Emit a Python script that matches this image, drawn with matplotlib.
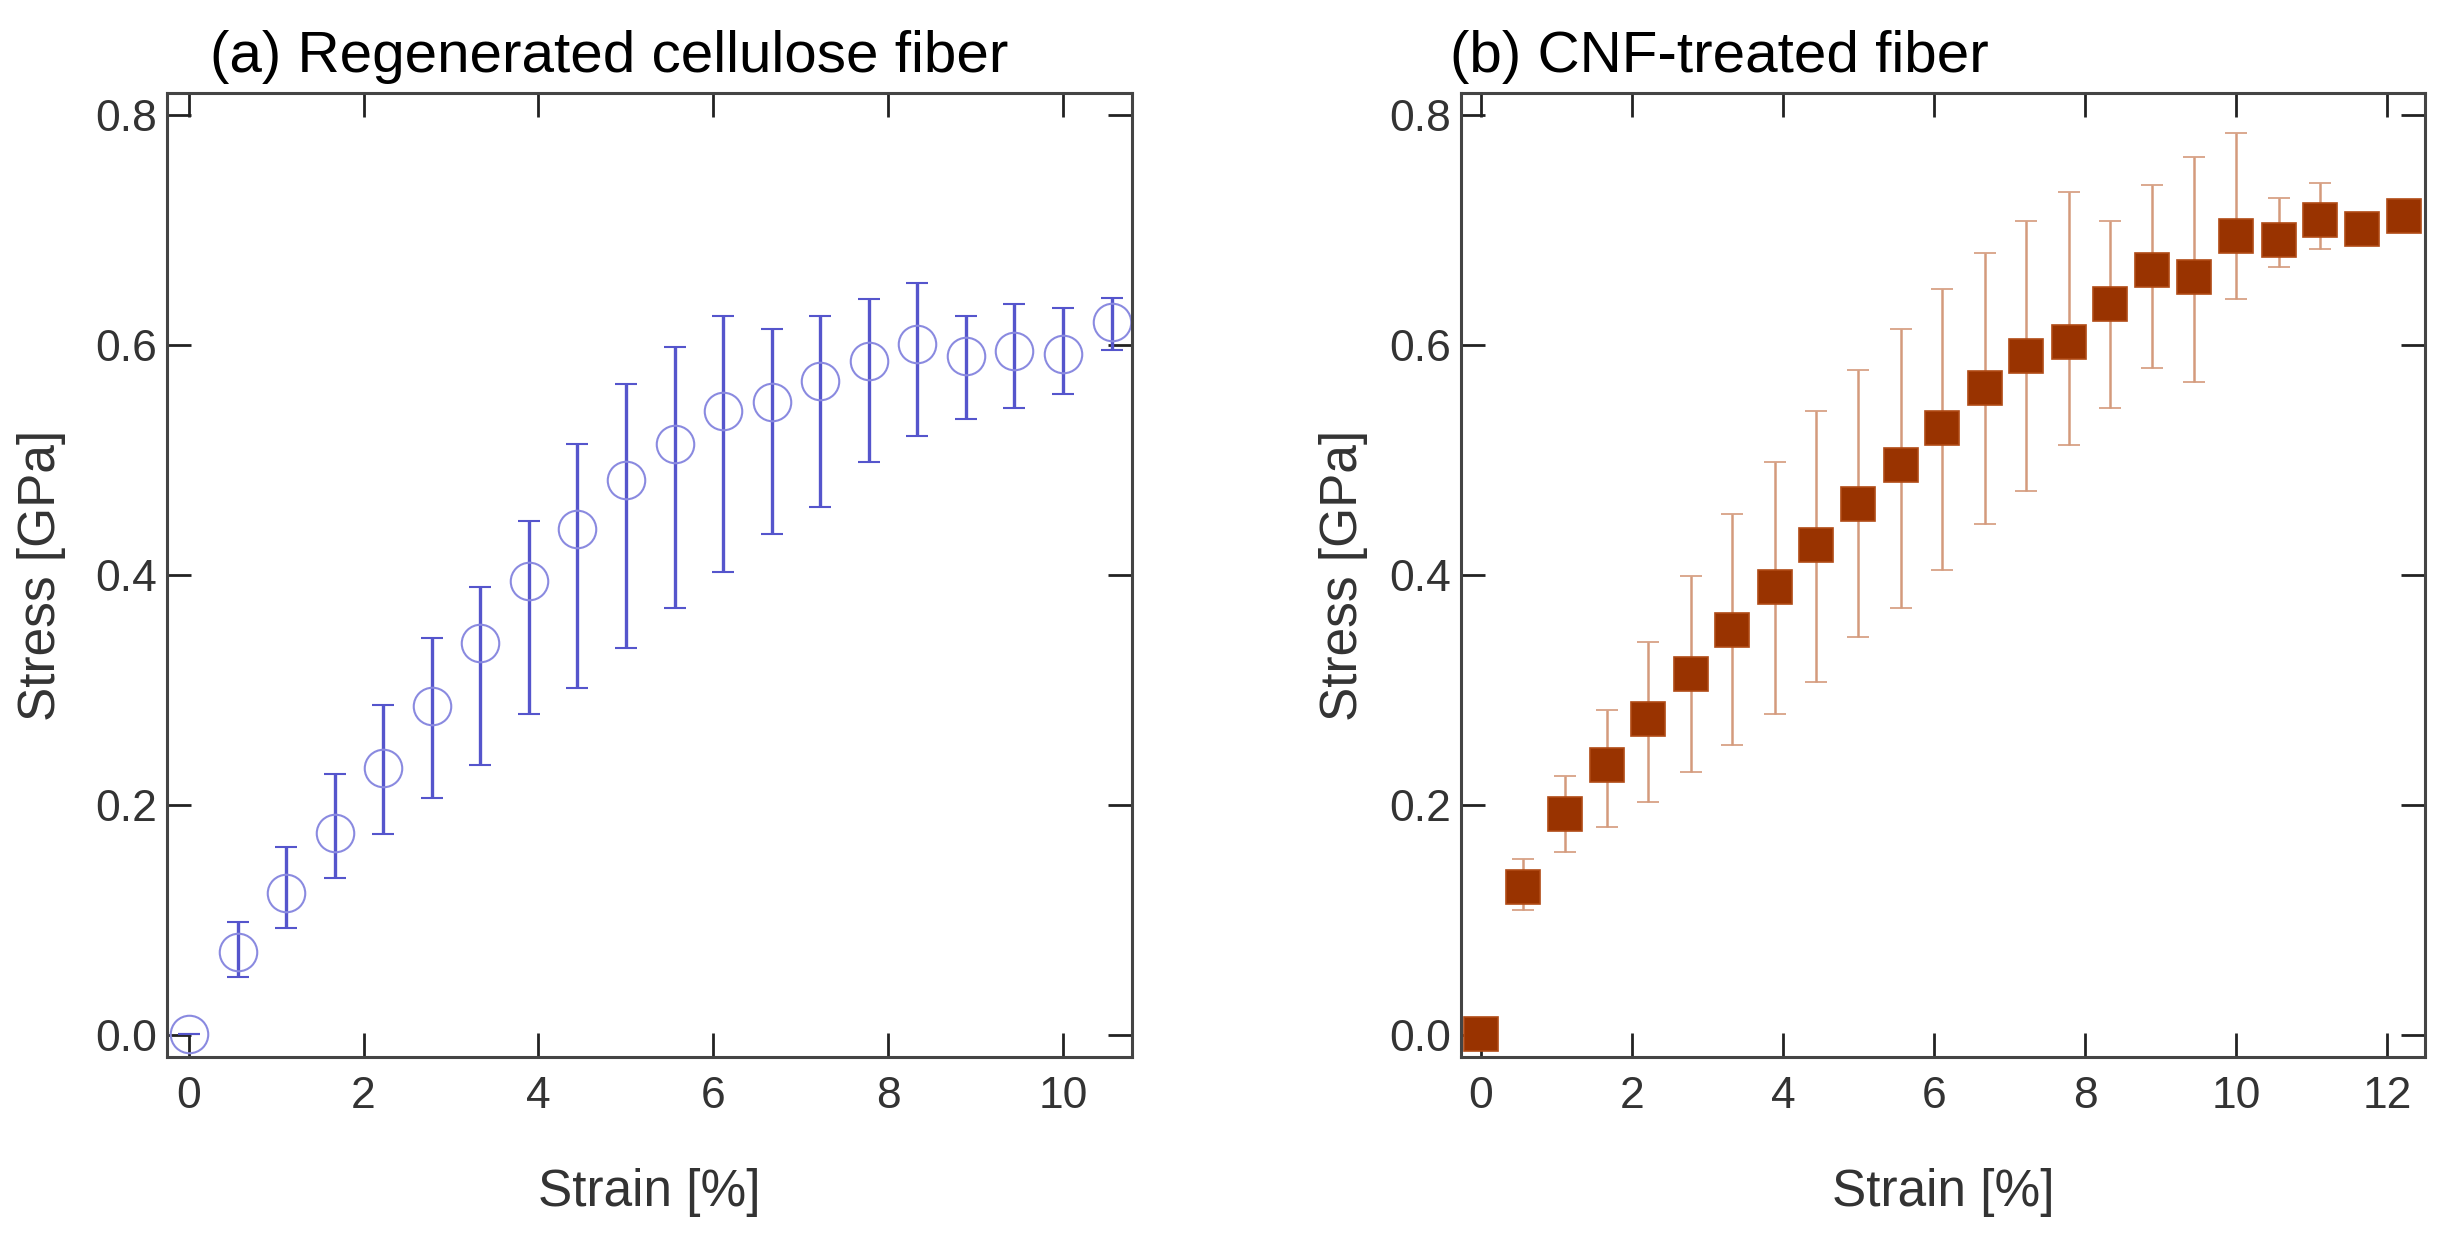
import numpy as np
import matplotlib
matplotlib.use("Agg")
from matplotlib import pyplot as plt

plt.rcParams['font.family'] = ['Liberation Sans', 'DejaVu Sans']

# (a) Regenerated cellulose fiber
strain_a = [0, 0.56, 1.11, 1.67, 2.22, 2.78, 3.33, 3.89, 4.44, 5.0,
            5.56, 6.11, 6.67, 7.22, 7.78, 8.33, 8.89, 9.44, 10.0, 10.56]
stress_a = [0.001, 0.072, 0.124, 0.176, 0.232, 0.286, 0.341, 0.395, 0.440, 0.483,
            0.514, 0.543, 0.550, 0.569, 0.586, 0.601, 0.590, 0.595, 0.592, 0.620]
upper_a = [0.001, 0.098, 0.164, 0.227, 0.287, 0.345, 0.390, 0.447, 0.514, 0.566,
           0.598, 0.625, 0.614, 0.625, 0.640, 0.654, 0.625, 0.636, 0.632, 0.641]
lower_a = [0.001, 0.051, 0.093, 0.137, 0.175, 0.206, 0.235, 0.279, 0.302, 0.337,
           0.371, 0.403, 0.436, 0.459, 0.498, 0.521, 0.536, 0.545, 0.557, 0.596]

# (b) CNF-treated fiber
strain_b = [0, 0.56, 1.11, 1.67, 2.22, 2.78, 3.33, 3.89, 4.44, 5.0, 5.56, 6.11,
            6.67, 7.22, 7.78, 8.33, 8.89, 9.44, 10.0, 10.56, 11.11, 11.67, 12.22]
stress_b = [0.001, 0.129, 0.192, 0.235, 0.275, 0.314, 0.352, 0.390, 0.426, 0.462, 0.496, 0.528,
            0.563, 0.590, 0.603, 0.636, 0.665, 0.659, 0.695, 0.691, 0.709, 0.701, 0.712]
upper_b = [0.001, 0.153, 0.225, 0.283, 0.342, 0.399, 0.453, 0.498, 0.543, 0.578, 0.614, 0.649,
           0.680, 0.708, 0.733, 0.708, 0.739, 0.763, 0.784, 0.728, 0.741, 0.705, 0.715]
lower_b = [0.001, 0.109, 0.159, 0.181, 0.203, 0.229, 0.252, 0.279, 0.307, 0.346, 0.371, 0.404,
           0.444, 0.473, 0.513, 0.545, 0.580, 0.568, 0.640, 0.668, 0.683, 0.697, 0.709]

yticks = [0.0, 0.2, 0.4, 0.6, 0.8]
xticks_a = [0, 2, 4, 6, 8, 10]
xticks_b = [0, 2, 4, 6, 8, 10, 12]


def style_axes(ax, xlim, xticks):
	ax.set_xlim(*xlim)
	ax.set_ylim(-0.019, 0.819)
	ax.set_xticks(xticks)
	ax.set_yticks(yticks)
	ax.set_yticklabels(["%.1f" % v for v in yticks])
	ax.tick_params(direction='in', length=17, width=2, top=True, right=True,
		labelsize=32, colors='#222222', labelcolor='#333333')
	ax.tick_params(axis='x', pad=14)
	ax.tick_params(axis='y', pad=7)
	for s in ax.spines.values():
		s.set_linewidth(2.2)
		s.set_color('#444444')
	ax.set_xlabel("Strain [%]", fontsize=37, color='#333333')
	ax.set_ylabel("Stress [GPa]", fontsize=37, color='#333333')
	ax.xaxis.set_label_coords(0.5, -0.115)
	ax.xaxis.label.set_va('top')


fig = plt.figure(figsize=(24.4, 12.44), dpi=100)
ax1 = fig.add_axes([0.0684, 0.1503, 0.3955, 0.7749])
ax2 = fig.add_axes([0.5988, 0.1503, 0.3951, 0.7749])

sa = np.array(stress_a)
err_a = [sa - np.array(lower_a), np.array(upper_a) - sa]
ax1.errorbar(strain_a, stress_a, yerr=err_a, fmt='o', ms=27, mfc='none',
	mec='#8a8ae0', mew=1.5, ecolor='#5555cc', elinewidth=2.4, capsize=8, capthick=2.6)
style_axes(ax1, (-0.25, 10.79), xticks_a)
ax1.yaxis.set_label_coords(-0.105, 0.5)
ax1.text(0.045, 1.022, "(a) Regenerated cellulose fiber", transform=ax1.transAxes,
	fontsize=42, va='baseline', ha='left', color='black')

sb = np.array(stress_b)
err_b = [sb - np.array(lower_b), np.array(upper_b) - sb]
ax2.errorbar(strain_b, stress_b, yerr=err_b, fmt='s', ms=24.5, mfc='#993300',
	mec='#b04a15', mew=1.2, ecolor='#d49a7c', elinewidth=1.8, capsize=8, capthick=2.2)
style_axes(ax2, (-0.26, 12.5), xticks_b)
ax2.yaxis.set_label_coords(-0.097, 0.5)
ax2.text(-0.011, 1.022, "(b) CNF-treated fiber", transform=ax2.transAxes,
	fontsize=42, va='baseline', ha='left', color='black')

fig.savefig("out.png", dpi=100)
